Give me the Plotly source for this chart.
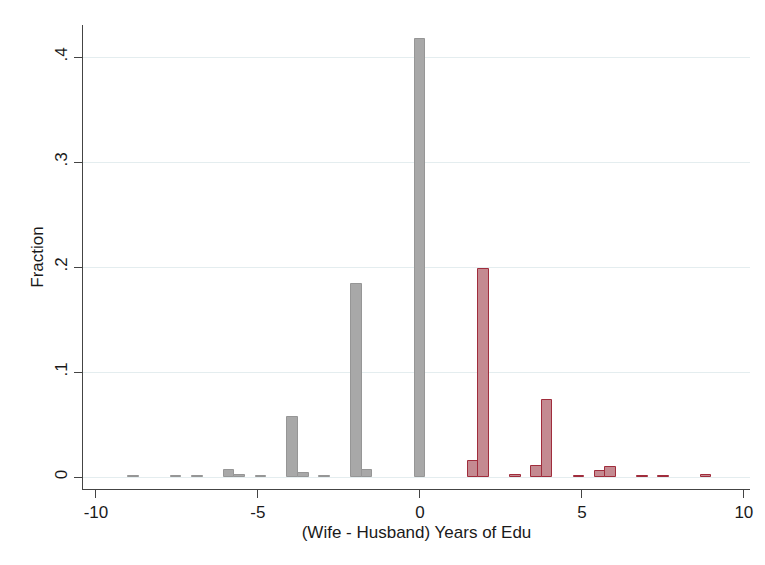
import plotly.graph_objects as go

# Histogram of (wife - husband) years of education, fraction per bin
bin_start = -9.0
bin_end = 9.0
n_bins = 55

# occupied bins (index from bin_start) and their fractions
bin_index = [0, 4, 6, 9, 10, 12, 15, 16, 18, 21, 22, 27,
             32, 33, 36, 38, 39, 42, 44, 45, 48, 50, 54]
fraction = [0.0008, 0.0009, 0.0009, 0.0066, 0.0015, 0.0008, 0.057, 0.0042, 0.0009, 0.184, 0.0066, 0.417,
            0.0155, 0.198, 0.0015, 0.0105, 0.0735, 0.0012, 0.0054, 0.0095, 0.0009, 0.0009, 0.0015]

x_ticks = [-10, -5, 0, 5, 10]
x_tick_text = ["-10", "-5", "0", "5", "10"]
y_ticks = [0, 0.1, 0.2, 0.3, 0.4]
y_tick_text = ["0", ".1", ".2", ".3", ".4"]

width = (bin_end - bin_start) / n_bins
centers = [bin_start + (k + 0.5) * width for k in bin_index]

neg_x = [c for c in centers if c <= 0]
neg_y = [f for c, f in zip(centers, fraction) if c <= 0]
pos_x = [c for c in centers if c > 0]
pos_y = [f for c, f in zip(centers, fraction) if c > 0]

fig = go.Figure()
fig.add_trace(go.Bar(
    x=neg_x, y=neg_y, width=width,
    marker=dict(color="rgb(168,168,168)", line=dict(color="rgb(150,150,150)", width=1)),
    showlegend=False,
))
fig.add_trace(go.Bar(
    x=pos_x, y=pos_y, width=width,
    marker=dict(color="rgb(196,138,145)", line=dict(color="rgb(160,45,60)", width=1)),
    showlegend=False,
))

font = dict(family="Liberation Sans, Arial, sans-serif", size=17, color="#1a1a1a")

fig.update_layout(
    width=765, height=565,
    margin=dict(l=83, r=13, t=25, b=76),
    paper_bgcolor="white", plot_bgcolor="white",
    barmode="overlay", bargap=0,
    font=font,
    xaxis=dict(
        range=[-10.40, 10.19],
        tickvals=x_ticks, ticktext=x_tick_text,
        ticks="outside", ticklen=8, tickcolor="#444444", tickwidth=1,
        showline=True, linecolor="#444444", linewidth=1,
        showgrid=False, zeroline=False,
        title=dict(text="(Wife - Husband) Years of Edu", font=font, standoff=4),
        tickfont=font,
    ),
    yaxis=dict(
        range=[-0.01143, 0.4305],
        tickvals=y_ticks, ticktext=y_tick_text, tickangle=-90,
        ticks="outside", ticklen=8, tickcolor="#444444", tickwidth=1,
        showline=True, linecolor="#444444", linewidth=1,
        showgrid=True, gridcolor="#e4edef", gridwidth=1,
        zeroline=False,
        title=dict(text="Fraction", font=font, standoff=4),
        tickfont=font,
    ),
)

fig.write_html("out.html")
